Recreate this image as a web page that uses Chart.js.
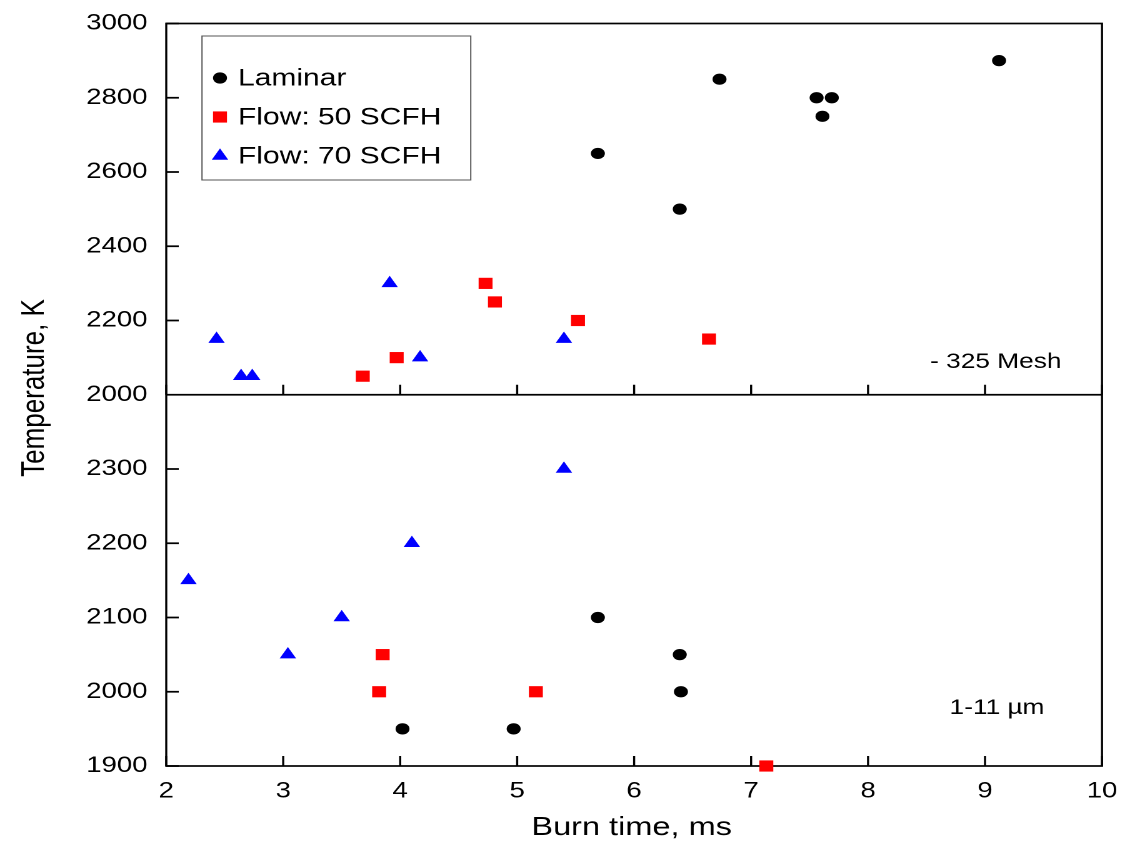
<!DOCTYPE html>
<html>
<head>
<meta charset="utf-8">
<script src="https://cdn.jsdelivr.net/npm/chart.js@4/dist/chart.umd.min.js"></script>
<style>
  body { margin: 0; background: #fff; }
  #wrap { width: 897px; height: 845px; transform: scaleX(1.25); transform-origin: 0 0; }
</style>
</head>
<body>
<div id="wrap"><canvas id="chart"></canvas></div>
<script>
// x ticks and panel ranges
const xTicks = [2, 3, 4, 5, 6, 7, 8, 9, 10];
const topTicks = [2000, 2200, 2400, 2600, 2800, 3000];
const botTicks = [1900, 2000, 2100, 2200, 2300, 2400];

const seriesNames = ['Laminar', 'Flow: 50 SCFH', 'Flow: 70 SCFH'];
const panelLabels = ['- 325 Mesh', '1-11 µm'];

// top panel (-325 mesh)
const topLaminarX = [5.69, 6.39, 6.73, 7.56, 7.69, 7.61, 9.12];
const topLaminarY = [2650, 2500, 2850, 2800, 2800, 2750, 2900];
const topFlow50X = [3.68, 3.97, 4.73, 4.81, 5.52, 6.64];
const topFlow50Y = [2050, 2100, 2300, 2250, 2200, 2150];
const topFlow70X = [2.43, 2.64, 2.735, 3.91, 4.17, 5.40];
const topFlow70Y = [2150, 2050, 2050, 2300, 2100, 2150];

// bottom panel (1-11 um)
const botLaminarX = [4.02, 4.97, 5.69, 6.39, 6.40];
const botLaminarY = [1950, 1950, 2100, 2050, 2000];
const botFlow50X = [3.82, 3.85, 5.16, 7.13];
const botFlow50Y = [2000, 2050, 2000, 1900];
const botFlow70X = [2.19, 3.04, 3.50, 4.10, 5.40];
const botFlow70Y = [2150, 2050, 2100, 2200, 2300];

const FONT = "'Liberation Sans', Arial, sans-serif";
Chart.defaults.font.family = FONT;
Chart.defaults.color = '#000';

const styles = [
  { color: '#000000', pointStyle: 'circle', radius: 5.6 },
  { color: '#ff0000', pointStyle: 'rect', radius: 7.9 },
  { color: '#0000ff', pointStyle: 'triangle', radius: 7.6 }
];

function pts(xs, ys) {
  return xs.map((x, i) => ({ x: x, y: ys[i] }));
}

function makeSet(idx, xs, ys, axis) {
  const s = styles[idx];
  return {
    label: seriesNames[idx],
    data: pts(xs, ys),
    yAxisID: axis,
    pointStyle: s.pointStyle,
    pointRadius: s.radius,
    pointHoverRadius: s.radius,
    backgroundColor: s.color,
    borderColor: s.color,
    borderWidth: 0,
    clip: false
  };
}

// keep the plot box where the reference has it
function noPadX(s) { s.height = 79; s.paddingLeft = 0; s.paddingRight = 0; }
function noPadY(s) { s.width = 133; s.paddingTop = 0; s.paddingBottom = 0; }

const framePlugin = {
  id: 'frame',
  beforeDatasetsDraw(chart) {
    const ctx = chart.ctx;
    const a = chart.chartArea;
    const x = chart.scales.x, yT = chart.scales.yTop, yB = chart.scales.yBot;
    const mid = yT.getPixelForValue(topTicks[0]);
    ctx.save();
    ctx.strokeStyle = '#000';
    ctx.lineWidth = 1.7;
    ctx.strokeRect(a.left, a.top, a.right - a.left, a.bottom - a.top);
    ctx.beginPath();
    ctx.moveTo(a.left, mid);
    ctx.lineTo(a.right, mid);
    // inward ticks
    xTicks.forEach(v => {
      const px = x.getPixelForValue(v);
      ctx.moveTo(px, a.bottom); ctx.lineTo(px, a.bottom - 10);
      ctx.moveTo(px, mid); ctx.lineTo(px, mid - 10);
    });
    topTicks.forEach(v => {
      const py = yT.getPixelForValue(v);
      ctx.moveTo(a.left, py); ctx.lineTo(a.left + 10, py);
    });
    botTicks.forEach(v => {
      const py = yB.getPixelForValue(v);
      ctx.moveTo(a.left, py); ctx.lineTo(a.left + 10, py);
    });
    ctx.stroke();
    ctx.restore();
  },
  afterDraw(chart) {
    const ctx = chart.ctx;
    const a = chart.chartArea;
    ctx.save();
    ctx.fillStyle = '#000';
    ctx.textAlign = 'center';
    ctx.textBaseline = 'middle';

    // axis titles
    ctx.font = '26px ' + FONT;
    ctx.fillText('Burn time, ms', (a.left + a.right) / 2 - 2, 828);
    ctx.save();
    ctx.translate(28, 388);
    ctx.rotate(-Math.PI / 2);
    ctx.font = '26px ' + FONT;
    ctx.fillText('Temperature, K', 0, 0);
    ctx.restore();

    // panel labels
    ctx.font = '21px ' + FONT;
    ctx.fillText(panelLabels[0], a.right - 85, 362);
    ctx.fillText(panelLabels[1], a.right - 84, 708);

    // legend box
    ctx.strokeStyle = '#555';
    ctx.lineWidth = 1;
    ctx.strokeRect(161.6, 36, 215, 144);
    const rows = [78, 117, 156];
    ctx.textAlign = 'left';
    ctx.font = '24px ' + FONT;
    seriesNames.forEach((name, i) => {
      const s = styles[i];
      ctx.fillStyle = s.color;
      Chart.helpers.drawPoint(ctx, { pointStyle: s.pointStyle, radius: s.radius, rotation: 0, borderWidth: 0 }, 176, rows[i]);
      ctx.fillStyle = '#000';
      ctx.fillText(name, 190.4, rows[i] + 1);
    });
    ctx.restore();
  }
};

new Chart(document.getElementById('chart'), {
  type: 'scatter',
  data: {
    datasets: [
      makeSet(0, topLaminarX, topLaminarY, 'yTop'),
      makeSet(1, topFlow50X, topFlow50Y, 'yTop'),
      makeSet(2, topFlow70X, topFlow70Y, 'yTop'),
      makeSet(0, botLaminarX, botLaminarY, 'yBot'),
      makeSet(1, botFlow50X, botFlow50Y, 'yBot'),
      makeSet(2, botFlow70X, botFlow70Y, 'yBot')
    ]
  },
  options: {
    responsive: true,
    maintainAspectRatio: false,
    animation: false,
    devicePixelRatio: 2,
    layout: { padding: { top: 23.5, right: 15.4, left: 0, bottom: 0 } },
    plugins: { legend: { display: false }, tooltip: { enabled: false } },
    scales: {
      x: {
        type: 'linear',
        min: 2, max: 10,
        grid: { display: false, drawTicks: false },
        border: { display: false },
        afterBuildTicks: s => { s.ticks = xTicks.map(v => ({ value: v })); },
        ticks: { font: { size: 22 }, padding: 12, color: '#000' },
        afterFit: noPadX
      },
      yBot: {
        type: 'linear',
        position: 'left',
        stack: 'temp',
        stackWeight: 1,
        min: 1900, max: 2400,
        grid: { display: false, drawTicks: false },
        border: { display: false },
        afterBuildTicks: s => { s.ticks = botTicks.map(v => ({ value: v })); },
        ticks: {
          font: { size: 22 }, padding: 15, color: '#000',
          callback: v => (v === 2400 ? '' : String(v))
        },
        afterFit: noPadY
      },
      yTop: {
        type: 'linear',
        position: 'left',
        stack: 'temp',
        stackWeight: 1,
        min: 2000, max: 3000,
        grid: { display: false, drawTicks: false },
        border: { display: false },
        afterBuildTicks: s => { s.ticks = topTicks.map(v => ({ value: v })); },
        ticks: { font: { size: 22 }, padding: 15, color: '#000', callback: v => String(v) },
        afterFit: noPadY
      }
    }
  },
  plugins: [framePlugin]
});
</script>
</body>
</html>
